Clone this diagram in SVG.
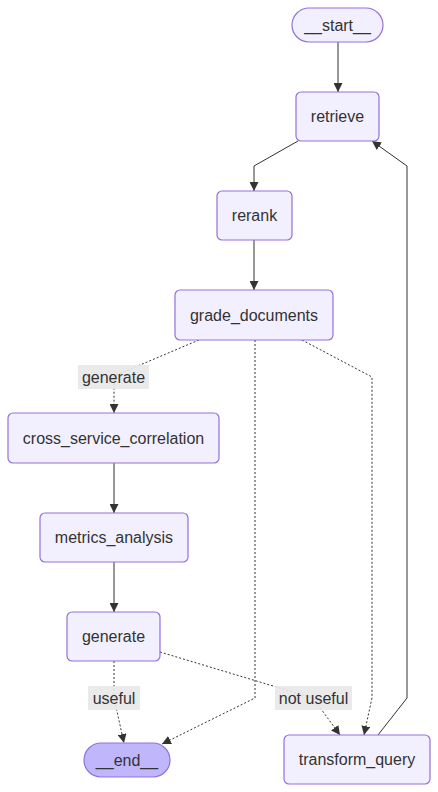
<svg xmlns="http://www.w3.org/2000/svg" width="438" height="792" viewBox="0 0 438 792">
<style>
.node rect{fill:#f2f0ff;stroke:#9370db;stroke-width:1.2}
.node.end rect{fill:#bfb6fc}
text{font-family:"Liberation Sans",Arial,sans-serif;font-size:16px;fill:#333;text-anchor:middle}
.edge{fill:none;stroke:#333;stroke-width:1}
.dash{stroke-dasharray:2,2}
.lbl rect{fill:#e8e8e8;opacity:0.9}
</style>
<defs>
<marker id="ah" viewBox="0 0 10 10" refX="10" refY="5" markerUnits="userSpaceOnUse" markerWidth="9" markerHeight="9" orient="auto">
<path d="M0,0 L10,5 L0,10 z" fill="#333"/>
</marker>
</defs>
<g id="connectors">
<polyline class="edge" points="338,42 338,92" marker-end="url(#ah)"/>
<polyline class="edge" points="298,141 254,166 254,191" marker-end="url(#ah)"/>
<polyline class="edge" points="254,240 254,290" marker-end="url(#ah)"/>
<polyline class="edge dash" points="199,340 114,376 114,413" marker-end="url(#ah)"/>
<polyline class="edge dash" points="255,340 255,698 162,744" marker-end="url(#ah)"/>
<polyline class="edge dash" points="302,340 372,377 372,698 364,735" marker-end="url(#ah)"/>
<polyline class="edge" points="114,463 114,513" marker-end="url(#ah)"/>
<polyline class="edge" points="114,562 114,612" marker-end="url(#ah)"/>
<polyline class="edge dash" points="114,661 114,698 124,743" marker-end="url(#ah)"/>
<polyline class="edge dash" points="160,652 313,698 340,735" marker-end="url(#ah)"/>
<polyline class="edge" points="378,735 407,698 407,166 372,141" marker-end="url(#ah)"/>
<g class="lbl"><rect x="78" y="365" width="71" height="24"/><text x="113.5" y="382.5">generate</text></g>
<g class="lbl"><rect x="88" y="686" width="52" height="24"/><text x="114" y="703.5">useful</text></g>
<g class="lbl"><rect x="275" y="686" width="77" height="24"/><text x="313.5" y="703.5">not useful</text></g>
</g>
<g id="start" class="node"><rect x="292" y="8" width="91" height="34" rx="17"/><text x="337.5" y="30.5">__start__</text></g>
<g id="retrieve" class="node"><rect x="296" y="92" width="83" height="49" rx="5"/><text x="337.5" y="122">retrieve</text></g>
<g id="rerank" class="node"><rect x="217" y="191" width="75" height="49" rx="5"/><text x="254.5" y="221">rerank</text></g>
<g id="grade_documents" class="node"><rect x="175" y="290" width="158" height="50" rx="5"/><text x="254" y="321">grade_documents</text></g>
<g id="cross_service_correlation" class="node"><rect x="8" y="413" width="211" height="50" rx="5"/><text x="113.5" y="444">cross_service_correlation</text></g>
<g id="metrics_analysis" class="node"><rect x="40" y="513" width="148" height="49" rx="5"/><text x="114" y="543">metrics_analysis</text></g>
<g id="generate" class="node"><rect x="67" y="612" width="93" height="49" rx="5"/><text x="113.5" y="642">generate</text></g>
<g id="end" class="node end"><rect x="84" y="743" width="86" height="34" rx="17"/><text x="127" y="765.5">__end__</text></g>
<g id="transform_query" class="node"><rect x="284" y="735" width="146" height="49" rx="5"/><text x="357" y="765">transform_query</text></g>
</svg>
